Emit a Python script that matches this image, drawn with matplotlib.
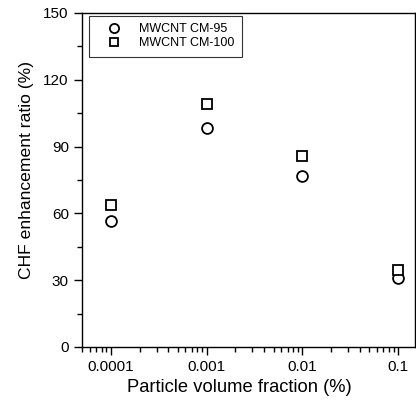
import numpy as np
import matplotlib
matplotlib.use('Agg')
import matplotlib.pyplot as plt
from matplotlib.ticker import MultipleLocator, LogLocator, NullFormatter, FixedLocator, FixedFormatter

plt.rcParams['font.family'] = ['Liberation Sans', 'DejaVu Sans']

# Data
fraction = [0.0001, 0.001, 0.01, 0.1]
cm95 = [56.5, 98.2, 76.8, 30.8]
cm100 = [63.8, 109.3, 85.8, 34.6]
x_ticks = [0.0001, 0.001, 0.01, 0.1]
x_tick_labels = ['0.0001', '0.001', '0.01', '0.1']

fig = plt.figure(figsize=(4.16, 4.0), dpi=100)
ax = fig.add_axes([82 / 416, 53 / 400, 333 / 416, 334 / 400])

ax.plot(fraction, cm95, linestyle='none', marker='o', markersize=7.8,
        markerfacecolor='white', markeredgecolor='black', markeredgewidth=1.3,
        label='MWCNT CM-95')
ax.plot(fraction, cm100, linestyle='none', marker='s', markersize=7.3,
        markerfacecolor='white', markeredgecolor='black', markeredgewidth=1.3,
        label='MWCNT CM-100')

ax.set_xscale('log')
ax.set_xlim(5e-5, 0.15)
ax.set_ylim(0, 150)
ax.xaxis.set_major_locator(FixedLocator(x_ticks))
ax.xaxis.set_major_formatter(FixedFormatter(x_tick_labels))
ax.xaxis.set_minor_locator(LogLocator(base=10, subs=np.arange(2, 10)))
ax.xaxis.set_minor_formatter(NullFormatter())
ax.yaxis.set_major_locator(MultipleLocator(30))
ax.yaxis.set_minor_locator(MultipleLocator(15))

ax.tick_params(which='both', direction='out', top=False, right=False, labelsize=11)
ax.tick_params(which='major', length=6, width=1)
ax.tick_params(which='minor', length=3.5, width=1)
for s in ax.spines.values():
    s.set_linewidth(1)

ax.set_xlabel('Particle volume fraction (%)', fontsize=13.2)
ax.set_ylabel('CHF enhancement ratio (%)', fontsize=12.6)
ax.xaxis.set_label_coords(0.474, -0.095)
ax.yaxis.set_label_coords(-0.143, 0.53)

leg = ax.legend(loc='upper left', bbox_to_anchor=(7 / 333, 1 - 3 / 334),
                fontsize=9, frameon=True, fancybox=False, edgecolor='black',
                borderaxespad=0, handlelength=2.8, handletextpad=0.6,
                labelspacing=0.14, borderpad=0.6, markerscale=0.85)
leg.get_frame().set_linewidth(0.8)

plt.savefig('out.png', dpi=100)
